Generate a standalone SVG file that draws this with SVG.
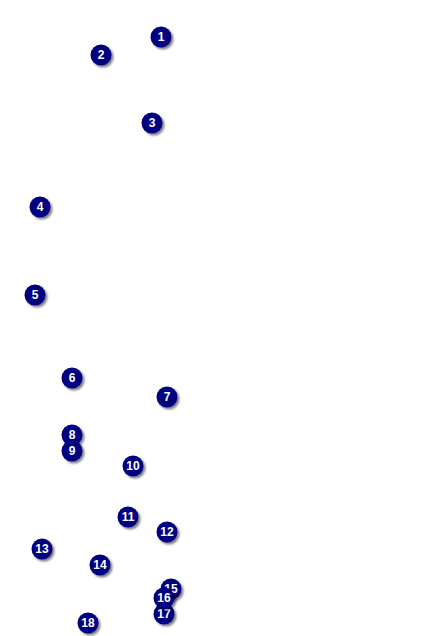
<svg xmlns="http://www.w3.org/2000/svg" width="424" height="636" viewBox="0 0 424 636">
<defs>
<filter id="sh" x="-50%" y="-50%" width="200%" height="200%">
<feGaussianBlur in="SourceAlpha" stdDeviation="1"/>
<feOffset dx="2" dy="2" result="b"/>
<feComponentTransfer><feFuncA type="linear" slope="0.5"/></feComponentTransfer>
<feMerge><feMergeNode/><feMergeNode in="SourceGraphic"/></feMerge>
</filter>
</defs>
<style>
.n circle{fill:#000080;filter:url(#sh)}
.n text{fill:#fff;font-family:"Liberation Sans",Arial,sans-serif;font-weight:bold;font-size:12px;text-anchor:middle;dominant-baseline:central}
</style>
<rect width="424" height="636" fill="#fff"/>
<g id="connectors"/>
<g id="n1" class="n"><circle cx="161" cy="37" r="10.5"/><text x="161" y="37">1</text></g>
<g id="n2" class="n"><circle cx="101" cy="55" r="10.5"/><text x="101" y="55">2</text></g>
<g id="n3" class="n"><circle cx="152" cy="123" r="10.5"/><text x="152" y="123">3</text></g>
<g id="n4" class="n"><circle cx="40" cy="207" r="10.5"/><text x="40" y="207">4</text></g>
<g id="n5" class="n"><circle cx="35" cy="295" r="10.5"/><text x="35" y="295">5</text></g>
<g id="n6" class="n"><circle cx="72" cy="378" r="10.5"/><text x="72" y="378">6</text></g>
<g id="n7" class="n"><circle cx="167" cy="397" r="10.5"/><text x="167" y="397">7</text></g>
<g id="n8" class="n"><circle cx="72" cy="435" r="10.5"/><text x="72" y="435">8</text></g>
<g id="n9" class="n"><circle cx="72" cy="451" r="10.5"/><text x="72" y="451">9</text></g>
<g id="n10" class="n"><circle cx="133" cy="466" r="10.5"/><text x="133" y="466">10</text></g>
<g id="n11" class="n"><circle cx="128" cy="517" r="10.5"/><text x="128" y="517">11</text></g>
<g id="n12" class="n"><circle cx="167" cy="532" r="10.5"/><text x="167" y="532">12</text></g>
<g id="n13" class="n"><circle cx="42" cy="549" r="10.5"/><text x="42" y="549">13</text></g>
<g id="n14" class="n"><circle cx="100" cy="565" r="10.5"/><text x="100" y="565">14</text></g>
<g id="n15" class="n"><circle cx="171" cy="589" r="10.5"/><text x="171" y="589">15</text></g>
<g id="n17" class="n"><circle cx="164" cy="614" r="10.5"/><text x="164" y="614">17</text></g>
<g id="n16" class="n"><circle cx="164" cy="598" r="10.5"/><text x="164" y="598">16</text></g>
<g id="n18" class="n"><circle cx="88" cy="623" r="10.5"/><text x="88" y="623">18</text></g>
</svg>
